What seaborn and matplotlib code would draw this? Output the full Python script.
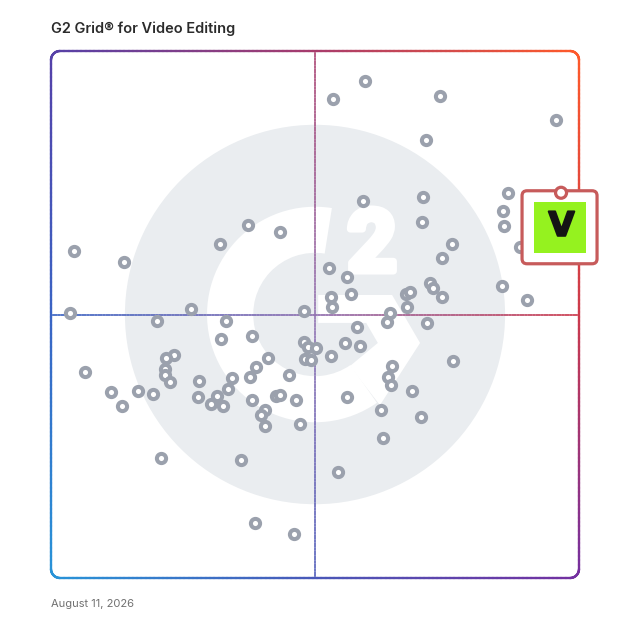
import numpy as np
import pandas as pd
import seaborn as sns
import matplotlib
matplotlib.use('Agg')
import matplotlib.pyplot as plt
import matplotlib.colors as mcolors
import matplotlib.transforms as mtransforms
import matplotlib.patheffects as pe
from matplotlib.collections import LineCollection
from matplotlib.patches import Circle, Wedge, Polygon, FancyBboxPatch, Rectangle

# G2 Grid scores (satisfaction on x, market presence on y)
satisfaction = [
    59.5, 53.4, 73.7, 95.6, 71.0, 59.1, 70.5, 86.6, 85.6, 85.8,
    70.3, 75.9, 74.1, 88.8, 52.7, 56.1, 56.8, 53.0, 53.2, 67.2,
    68.0, 71.8, 72.3, 74.1, 67.4, 64.2, 63.6, 71.2, 58.0, 85.4,
    90.2, 4.4, 13.8, 32.0, 37.3, 43.4, 26.5, 47.9, 3.6, 20.1,
    33.1, 32.2, 38.1, 47.9, 48.7, 50.2, 48.1, 49.2, 41.1, 38.8,
    37.7, 45.1, 34.3, 33.5, 31.4, 30.3, 32.6, 28.0, 27.8, 23.3,
    21.8, 21.6, 21.6, 22.5, 6.4, 11.4, 13.4, 16.5, 19.3, 38.1,
    42.6, 43.4, 46.4, 40.5, 39.8, 40.5, 47.2, 20.8, 36.0, 38.6,
    46.0, 55.7, 58.5, 53.0, 76.1, 64.6, 63.8, 64.4, 68.4, 56.1,
    62.5, 70.1, 62.9, 54.4,
]
market_presence = [
    94.3, 90.9, 91.5, 86.9, 83.1, 71.5, 72.3, 73.1, 69.6, 66.8,
    67.6, 63.4, 60.7, 62.8, 58.8, 57.1, 53.9, 53.3, 51.4, 53.9,
    54.3, 56.0, 55.0, 53.3, 51.4, 50.3, 48.6, 48.4, 47.6, 55.4,
    52.8, 62.0, 60.0, 63.4, 67.0, 65.7, 51.0, 50.7, 50.3, 48.8,
    48.8, 45.4, 45.9, 44.8, 43.8, 43.6, 41.6, 41.4, 41.7, 40.0,
    38.1, 38.5, 38.0, 35.9, 34.5, 33.0, 32.6, 37.4, 34.3, 42.3,
    41.7, 39.7, 38.5, 37.2, 39.1, 35.3, 32.6, 35.5, 34.9, 33.8,
    34.5, 34.7, 33.8, 31.9, 30.9, 28.8, 29.2, 22.8, 22.4, 10.4,
    8.3, 44.6, 44.0, 42.1, 41.2, 40.2, 38.1, 36.6, 35.5, 34.3,
    31.9, 30.6, 26.6, 20.1,
]
# highlighted product
highlight_name = 'V'
highlight_satisfaction = 96.6
highlight_presence = 73.1

title = 'G2 Grid® for Video Editing'
date_label = 'August 11, 2026'

df = pd.DataFrame({'satisfaction': satisfaction, 'market_presence': market_presence})

# gradient colours for the frame (3x3 grid: rows bottom/mid/top, cols left/mid/right)
grid_cols = np.array([
    [mcolors.to_rgb(c) for c in ['#2894d8', '#4a58b8', '#7430a0']],   # bottom
    [mcolors.to_rgb(c) for c in ['#3a64c4', '#9070b0', '#cc3a4c']],   # middle
    [mcolors.to_rgb(c) for c in ['#5540a8', '#a83c6c', '#ff5a2a']],   # top
])


def grad_color(u, v):
    i = min(int(u * 2), 1)
    j = min(int(v * 2), 1)
    fu = u * 2 - i
    fv = v * 2 - j
    c = (grid_cols[j, i] * (1 - fu) * (1 - fv) + grid_cols[j, i + 1] * fu * (1 - fv)
         + grid_cols[j + 1, i] * (1 - fu) * fv + grid_cols[j + 1, i + 1] * fu * fv)
    return tuple(np.clip(c, 0, 1))


def gradient_line(ax, pts, lw, alpha=1.0, zorder=2):
    segs = np.stack([pts[:-1], pts[1:]], axis=1)
    mids = (pts[:-1] + pts[1:]) / 2
    cols = [grad_color(u, v) + (alpha,) for u, v in mids]
    lc = LineCollection(segs, colors=cols, linewidths=lw, transform=ax.transAxes,
                        clip_on=False, zorder=zorder, capstyle='round')
    ax.add_collection(lc)


fig = plt.figure(figsize=(6.28, 6.28), dpi=100)
ax = fig.add_axes([51 / 628, 50 / 628, 528 / 628, 527 / 628])
ax.set_xlim(0, 100)
ax.set_ylim(0, 100)
ax.axis('off')

# faint G2 logo in the background
bg = '#eaedf0'
ax.add_patch(Circle((0.5, 0.5), 0.36, transform=ax.transAxes, fc=bg, ec='none', zorder=0))
ax.add_patch(Wedge((0.5, 0.5), 0.2045, 81, 305, width=0.0875, transform=ax.transAxes,
                   fc='white', ec='none', zorder=0.1))
chevron = [(0.506, 0.537), (0.646, 0.537), (0.699, 0.446), (0.623, 0.328),
           (0.566, 0.402), (0.619, 0.446), (0.597, 0.484), (0.506, 0.484)]
ax.add_patch(Polygon(chevron, closed=True, transform=ax.transAxes, fc='white', ec='none', zorder=0.1))
ax.text(0.608, 0.627, '2', transform=ax.transAxes, ha='center', va='center', color='white',
        fontsize=62, fontweight='bold', family=['Roboto', 'DejaVu Sans'], zorder=0.2,
        path_effects=[pe.withStroke(linewidth=5, foreground='white')])

# frame with rounded corners
W, H, r = 528.0, 527.0, 9.0
n = 120
t = np.linspace(0, 1, n)
a = np.linspace(0, np.pi / 2, 30)
pts = []
pts += list(zip(r + (W - 2 * r) * t, np.full(n, H)))
pts += list(zip(W - r + r * np.sin(a), H - r + r * np.cos(a)))
pts += list(zip(np.full(n, W), H - r - (H - 2 * r) * t))
pts += list(zip(W - r + r * np.cos(a), r - r * np.sin(a)))
pts += list(zip(W - r - (W - 2 * r) * t, np.zeros(n)))
pts += list(zip(r - r * np.sin(a), r - r * np.cos(a)))
pts += list(zip(np.zeros(n), r + (H - 2 * r) * t))
pts += list(zip(r - r * np.cos(a), H - r + r * np.sin(a)))
pts = np.array(pts)
pts[:, 0] /= W
pts[:, 1] /= H
gradient_line(ax, pts, lw=1.7, zorder=2)

# quadrant dividers
tt = np.linspace(0, 1, 200)
gradient_line(ax, np.column_stack([tt, np.full_like(tt, 0.5)]), lw=1.2, alpha=0.9, zorder=1.5)
gradient_line(ax, np.column_stack([np.full_like(tt, 0.5), tt]), lw=1.2, alpha=0.8, zorder=1.5)

# products
sns.scatterplot(data=df, x='satisfaction', y='market_presence', ax=ax, s=44,
                color='white', edgecolor='#9ba1ad', linewidth=2.9, zorder=3, legend=False)
ax.set_xlim(0, 100)
ax.set_ylim(0, 100)

# highlighted product card
ident = mtransforms.IdentityTransform()
px, py = ax.transData.transform((highlight_satisfaction, highlight_presence))
cx, cy = px - 1.5, py - 34.5
ax.add_patch(FancyBboxPatch((cx - 37.5, cy - 36.5), 75, 73, boxstyle='round,pad=0,rounding_size=5',
                            transform=ident, fc='white', ec='#c75b5b', lw=2.3, clip_on=False, zorder=5))
ax.add_patch(Rectangle((cx - 26, cy - 25.5), 52, 51, transform=ident, fc='#95f21f', ec='none',
                       clip_on=False, zorder=6))
ax.add_patch(Circle((px, py), 5.5, transform=ident, fc='white', ec='#c75b5b', lw=2.3,
                    clip_on=False, zorder=7))
ax.text(cx + 2, cy + 1, highlight_name, transform=ident, ha='center', va='center', fontsize=24,
        fontweight='bold', color='#141414', family=['DejaVu Sans'], zorder=8, clip_on=False,
        path_effects=[pe.withStroke(linewidth=1.5, foreground='#141414')])

fig.text(51 / 628, 1 - 29 / 628, title, ha='left', va='center', fontsize=10.5,
         fontweight='semibold', color='#2b2b2b', family=['Inter', 'DejaVu Sans'])
fig.text(51 / 628, 1 - 604 / 628, date_label, ha='left', va='center', fontsize=8,
         color='#707070', family=['Inter', 'DejaVu Sans'])

fig.savefig('out.png', dpi=100)
